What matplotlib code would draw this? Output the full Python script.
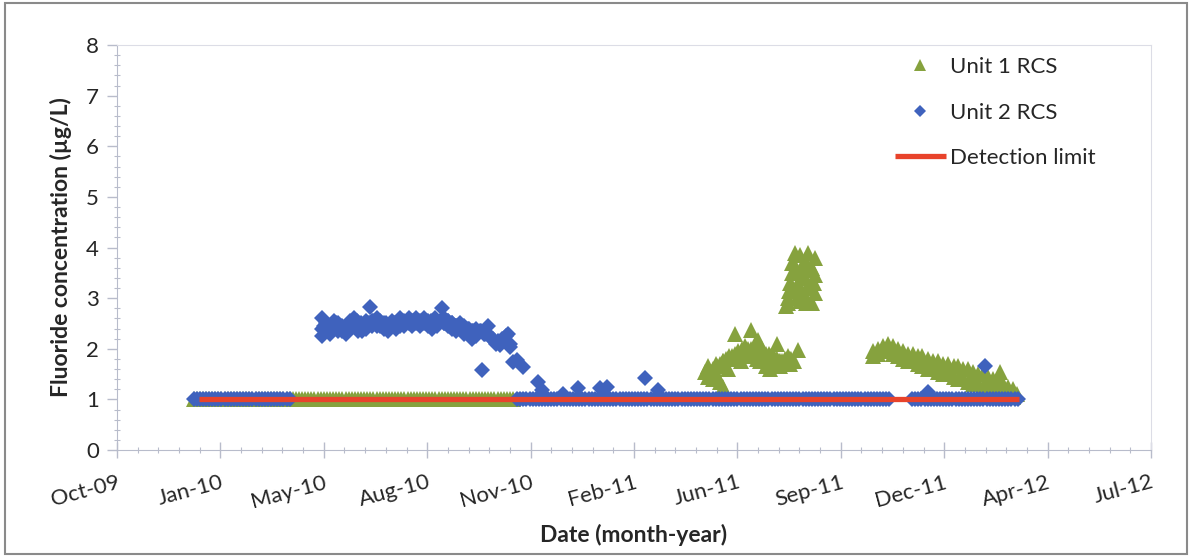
import numpy as np
import matplotlib
matplotlib.use("Agg")
import matplotlib.pyplot as plt
from matplotlib.patches import Rectangle
import matplotlib.ticker as mticker

# ---------------- data (days since 2010-01-01, concentration in ug/L) ----------------
detection_limit_value = 1.0
detection_limit_days = [0, 793]

# Unit 1 RCS (green triangles) -- samples at the detection limit
unit1_dl_days = [
    -5, -2, 1, 4, 7, 10, 13, 16, 19, 22, 25, 28, 31, 34, 37, 40, 43, 46, 49, 52, 55, 58,
    61, 64, 67, 70, 73, 76, 79, 82, 85, 88, 91, 94, 97, 100, 103, 106, 109, 112, 115, 118,
    121, 124, 127, 130, 133, 136, 139, 142, 145, 148, 151, 154, 157, 160, 163, 166, 169,
    172, 175, 178, 181, 184, 187, 190, 193, 196, 199, 202, 205, 208, 211, 214, 217, 220,
    223, 226, 229, 232, 235, 238, 241, 244, 247, 250, 253, 256, 259, 262, 265, 268, 271,
    274, 277, 280, 283, 286, 289, 292, 295, 298, 301, 304,
]
# Unit 1 RCS -- samples above the detection limit
unit1_high_days = [
    # Jun-Aug 2011
    490, 493, 493, 497, 497, 500, 500, 504, 504, 507, 507, 512, 512, 519, 519, 524, 524,
    528, 528, 534, 534, 538, 538, 541, 541, 545, 545, 549, 549, 553, 553, 555, 559, 559,
    562, 562, 567, 572, 572, 580,
    495, 498, 501, 504, 507, 510, 513, 516, 519, 522, 525, 528, 531, 534, 537, 540, 543,
    546, 549, 552, 555, 558, 561, 564, 567, 570, 573, 576,
    # Aug 2011 peak
    568, 570, 570, 572, 574, 574, 577, 582, 582, 582, 582, 586, 586, 586, 589, 593, 593,
    593, 596, 596, 596,
    571, 575, 578, 580, 584, 588, 591, 595, 579, 587,
    # Nov 2011 - Mar 2012
    652, 652, 657, 657, 662, 662, 667, 667, 671, 671, 676, 676, 681, 681, 686, 686, 691,
    691, 696, 696, 700, 700, 705, 705, 710, 710, 715, 715, 720, 720, 725, 725, 730, 730,
    734, 734, 739, 739, 744, 744, 749, 749, 754, 754, 759, 759, 763, 763, 768, 768, 773,
    773, 778, 778, 783, 783, 788, 788, 791, 775,
]
unit1_high_values = [
    1.55, 1.65, 1.45, 1.6, 1.4, 1.7, 1.5, 1.65, 1.35, 1.25, 1.75, 1.8, 1.6, 2.3, 1.8,
    1.9, 1.75, 2.0, 1.85, 2.37, 2.0, 2.1, 1.9, 2.17, 1.95, 1.78, 2.0, 1.65, 1.9, 1.6,
    1.85, 1.7, 2.1, 1.8, 1.75, 1.65, 1.78, 1.7, 1.8, 1.97,
    1.55, 1.6, 1.65, 1.7, 1.75, 1.8, 1.85, 1.85, 1.9, 1.95, 2.0, 2.05, 2.0, 1.95, 1.85,
    1.8, 1.75, 1.8, 1.85, 1.9, 1.85, 1.8, 1.75, 1.75, 1.8, 1.85, 1.8, 1.75,
    2.85, 3.0, 2.9, 3.3, 3.5, 3.7, 3.9, 3.85, 3.5, 3.2, 2.95, 3.75, 3.4, 3.05, 3.9,
    3.6, 3.3, 2.9, 3.8, 3.45, 3.1,
    3.15, 3.2, 3.6, 3.3, 3.6, 3.2, 3.55, 3.3, 3.0, 2.9,
    1.95, 1.85, 2.0, 1.9, 2.05, 1.95, 2.1, 2.0, 2.05, 1.9, 2.0, 1.85, 1.95, 1.8, 1.9,
    1.75, 1.9, 1.75, 1.85, 1.7, 1.85, 1.65, 1.8, 1.6, 1.75, 1.6, 1.75, 1.55, 1.7, 1.5,
    1.7, 1.5, 1.65, 1.45, 1.65, 1.4, 1.6, 1.4, 1.6, 1.35, 1.55, 1.3, 1.5, 1.3, 1.5,
    1.25, 1.45, 1.2, 1.4, 1.2, 1.35, 1.15, 1.3, 1.15, 1.25, 1.1, 1.2, 1.05, 1.1, 1.55,
]

# Unit 2 RCS (blue diamonds) -- samples at the detection limit
unit2_dl_days = [
    -5, -2, 1, 4, 7, 10, 13, 16, 19, 22, 25, 28, 31, 34, 37, 40, 43, 46, 49, 52, 55, 58,
    61, 64, 67, 70, 73, 76, 79, 82, 85, 88,
    308, 311, 314, 317, 320, 323, 326, 329, 332, 335, 338, 341, 344, 347, 350, 353, 356,
    359, 362, 365, 368, 371, 374, 377, 380, 383, 386, 389, 392, 395, 398, 401, 404, 407,
    410, 413, 416, 419, 422, 425, 428, 431, 434, 437, 440, 443, 446, 449, 452, 455, 458,
    461, 464, 467, 470, 473, 476, 479, 482, 485, 488, 491, 494, 497, 500, 503, 506, 509,
    512, 515, 518, 521, 524, 527, 530, 533, 536, 539, 542, 545, 548, 551, 554, 557, 560,
    563, 566, 569, 572, 575, 578, 581, 584, 587, 590, 593, 596, 599, 602, 605, 608, 611,
    614, 617, 620, 623, 626, 629, 632, 635, 638, 641, 644, 647, 650, 653, 656, 659, 662,
    665, 668,
    690, 693, 696, 699, 702, 705, 708, 711, 714, 717, 720, 723, 726, 729, 732, 735, 738,
    741, 744, 747, 750, 753, 756, 759, 762, 765, 768, 771, 774, 777, 780, 783, 786, 789,
    792,
]
# Unit 2 RCS -- samples above the detection limit
unit2_high_days = [
    119, 119, 119, 123, 123, 127, 127, 131, 131, 135, 135, 139, 139, 142, 142, 146, 146,
    150, 150, 154, 154, 158, 158, 162, 162, 166, 168, 168, 172, 172, 175, 175, 179, 179,
    183, 183, 187, 187, 191, 191, 195, 195, 199, 199, 203, 203, 206, 206, 210, 210, 214,
    214, 218, 218, 222, 222, 226, 226, 230, 230, 235, 237, 237, 241, 241, 245, 245, 249,
    249, 253, 253, 257, 257, 260, 260, 264, 264, 268, 268, 272, 274, 276, 280, 280, 284,
    288, 291, 295, 299, 301, 304, 308, 314,
    121, 125, 129, 133, 137, 141, 145, 149, 153, 157, 161, 165, 169, 173, 177, 181, 185,
    189, 193, 197, 201, 205, 209, 213, 217, 221, 225, 229, 233, 237, 241, 245, 249, 253,
    257, 261, 265, 269, 273, 277, 281, 285, 289, 293, 297, 301,
    328, 332, 352, 367, 388, 395, 432, 444, 705, 760,
]
unit2_high_values = [
    2.6, 2.4, 2.25, 2.5, 2.35, 2.45, 2.3, 2.55, 2.4, 2.5, 2.35, 2.45, 2.35, 2.4, 2.3,
    2.55, 2.4, 2.6, 2.45, 2.5, 2.35, 2.45, 2.35, 2.55, 2.4, 2.83, 2.55, 2.45, 2.6, 2.45,
    2.55, 2.45, 2.5, 2.4, 2.45, 2.35, 2.55, 2.45, 2.5, 2.4, 2.6, 2.45, 2.55, 2.45, 2.6,
    2.5, 2.55, 2.45, 2.6, 2.5, 2.55, 2.45, 2.6, 2.5, 2.55, 2.45, 2.5, 2.4, 2.55, 2.45,
    2.8, 2.6, 2.5, 2.55, 2.45, 2.5, 2.4, 2.45, 2.35, 2.5, 2.4, 2.45, 2.3, 2.4, 2.3,
    2.35, 2.2, 2.4, 2.25, 2.35, 1.58, 2.3, 2.45, 2.3, 2.2, 2.1, 2.07, 2.2, 2.3, 2.03,
    1.74, 1.78, 1.64,
    2.45, 2.4, 2.45, 2.5, 2.45, 2.4, 2.45, 2.5, 2.55, 2.5, 2.45, 2.5, 2.55, 2.5, 2.45,
    2.5, 2.45, 2.5, 2.55, 2.5, 2.55, 2.5, 2.55, 2.5, 2.55, 2.5, 2.55, 2.6, 2.55, 2.5,
    2.55, 2.5, 2.45, 2.4, 2.35, 2.4, 2.35, 2.3, 2.35, 2.3, 2.25, 2.2, 2.15, 2.2, 2.25,
    2.1,
    1.34, 1.19, 1.1, 1.22, 1.22, 1.24, 1.42, 1.19, 1.15, 1.65,
]

x_tick_labels = ['Oct-09', 'Jan-10', 'May-10', 'Aug-10', 'Nov-10', 'Feb-11',
                 'Jun-11', 'Sep-11', 'Dec-11', 'Apr-12', 'Jul-12']
y_ticks = [0, 1, 2, 3, 4, 5, 6, 7, 8]

series_names = ['Unit 1 RCS', 'Unit 2 RCS', 'Detection limit']
x_label = 'Date (month-year)'
y_label = 'Fluoride concentration (\u00b5g/L)'

# ---------------- plotting ----------------
plt.rcParams['font.family'] = ['Lato', 'DejaVu Sans']

GREEN = '#86a23e'
BLUE = '#3f62bd'
RED = '#e8432b'
AXC = '#b8bccb'
TXT = '#262626'

base = np.datetime64('2010-01-01')
def to_dates(days):
    return base + np.array(days, dtype='timedelta64[D]')

unit1_days = unit1_dl_days + unit1_high_days
unit1_values = [detection_limit_value] * len(unit1_dl_days) + unit1_high_values
unit2_days = unit2_dl_days + unit2_high_days
unit2_values = [detection_limit_value] * len(unit2_dl_days) + unit2_high_values

fig = plt.figure(figsize=(11.92, 5.57), dpi=100)
ax = fig.add_axes([117 / 1192, 1 - 450 / 557, (1151 - 117) / 1192, (450 - 45) / 557])

ax.plot(to_dates(unit1_days), unit1_values, linestyle='none', marker='^',
        markersize=11.5, color=GREEN, markeredgewidth=0, label=series_names[0], zorder=2)
ax.plot(to_dates(unit2_days), unit2_values, linestyle='none', marker='D',
        markersize=7.8, color=BLUE, markeredgewidth=0, label=series_names[1], zorder=3)
ax.plot(to_dates(detection_limit_days), [detection_limit_value] * 2, color=RED,
        linewidth=3.8, label=series_names[2], zorder=4, solid_capstyle='butt')

x_start = np.datetime64('2009-10-14')
major = x_start + np.arange(0, 1001, 100).astype('timedelta64[D]')
minor = x_start + np.arange(0, 1001, 20).astype('timedelta64[D]')
ax.set_xlim(major[0], major[-1])
ax.set_xticks(major)
ax.set_xticks(minor, minor=True)
ax.set_xticklabels(x_tick_labels, rotation=15, ha='right', rotation_mode='anchor',
                   fontsize=16)
ax.set_ylim(0, 8)
ax.set_yticks(y_ticks)
ax.yaxis.set_minor_locator(mticker.MultipleLocator(0.2))
ax.tick_params(axis='y', labelsize=16, colors=AXC, which='major', direction='out',
               length=7, width=1, pad=6)
ax.tick_params(axis='y', which='minor', direction='inout', length=5, width=0.8, colors=AXC)
ax.tick_params(axis='x', which='major', direction='inout', length=12, width=1, colors=AXC,
               pad=10)
ax.tick_params(axis='x', which='minor', direction='inout', length=5, width=0.8, colors=AXC)
for lab in ax.get_xticklabels() + ax.get_yticklabels():
    lab.set_color(TXT)

for s in ax.spines.values():
    s.set_color('#dcdde6')
    s.set_linewidth(0.8)
ax.spines['left'].set_color(AXC)
ax.spines['bottom'].set_color(AXC)

ax.set_xlabel(x_label, fontsize=16.5, fontweight='bold', labelpad=9, color=TXT)
ax.set_ylabel(y_label, fontsize=16.5, fontweight='bold', labelpad=10, color=TXT)

leg = ax.legend(loc='upper left', bbox_to_anchor=(0.752, 0.97), frameon=False,
                fontsize=16, handlelength=2.3, labelspacing=1.15, handletextpad=0.2,
                borderpad=0, borderaxespad=0, markerscale=0.72)
for t in leg.get_texts():
    t.set_color(TXT)

fig.patches.append(Rectangle((0.004, 0.006), 0.992, 0.988, transform=fig.transFigure,
                             fill=False, edgecolor='#8a8a8a', linewidth=1.5))

fig.savefig('out.png', dpi=100)
